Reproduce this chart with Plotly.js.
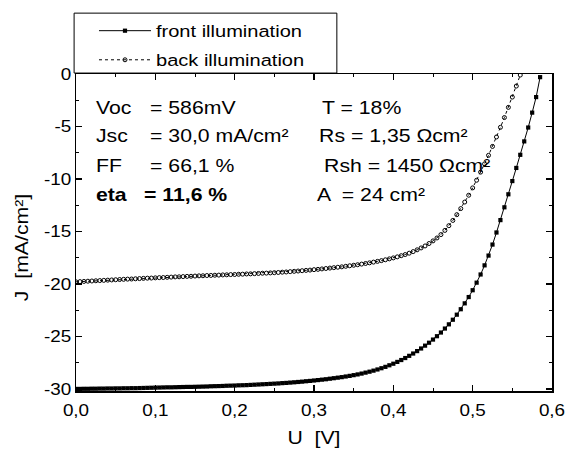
<!DOCTYPE html>
<html><head><meta charset="utf-8">
<script src="https://cdn.plot.ly/plotly-3.0.1.min.js"></script>
<style>html,body{margin:0;padding:0;background:#fff}</style>
</head><body>
<div id="chart" style="width:565px;height:450px"></div>
<script>
// Voltage sweep (V)
const voltage = [0.000,0.005,0.010,0.015,0.020,0.025,0.030,0.035,0.040,0.045,0.050,0.055,0.060,0.065,0.070,0.075,0.080,0.085,0.090,0.095,
0.100,0.105,0.110,0.115,0.120,0.125,0.130,0.135,0.140,0.145,0.150,0.155,0.160,0.165,0.170,0.175,0.180,0.185,0.190,0.195,
0.200,0.205,0.210,0.215,0.220,0.225,0.230,0.235,0.240,0.245,0.250,0.255,0.260,0.265,0.270,0.275,0.280,0.285,0.290,0.295,
0.300,0.305,0.310,0.315,0.320,0.325,0.330,0.335,0.340,0.345,0.350,0.355,0.360,0.365,0.370,0.375,0.380,0.385,0.390,0.395,
0.400,0.405,0.410,0.415,0.420,0.425,0.430,0.435,0.440,0.445,0.450,0.455,0.460,0.465,0.470,0.475,0.480,0.485,0.490,0.495,
0.500,0.505,0.510,0.515,0.520,0.525,0.530,0.535,0.540,0.545,0.550,0.555,0.560,0.565,0.570,0.575,0.580,0.585];

// Front illumination current density (mA/cm2)
const jFront = [-30.00,-30.00,-29.99,-29.99,-29.98,-29.98,-29.97,-29.97,-29.96,-29.96,-29.95,-29.95,-29.94,-29.94,-29.93,-29.93,-29.92,-29.91,-29.90,-29.89,
-29.88,-29.87,-29.86,-29.85,-29.85,-29.84,-29.83,-29.82,-29.81,-29.81,-29.80,-29.79,-29.78,-29.77,-29.75,-29.74,-29.73,-29.72,-29.70,-29.69,
-29.68,-29.66,-29.65,-29.64,-29.62,-29.60,-29.58,-29.56,-29.54,-29.52,-29.50,-29.48,-29.45,-29.43,-29.40,-29.37,-29.34,-29.31,-29.27,-29.24,
-29.20,-29.16,-29.12,-29.08,-29.03,-28.98,-28.93,-28.88,-28.82,-28.76,-28.69,-28.62,-28.54,-28.45,-28.36,-28.26,-28.15,-28.03,-27.90,-27.75,
-27.60,-27.43,-27.25,-27.06,-26.85,-26.63,-26.40,-26.15,-25.88,-25.60,-25.30,-24.98,-24.63,-24.25,-23.85,-23.41,-22.93,-22.41,-21.85,-21.25,
-20.60,-19.88,-19.10,-18.23,-17.30,-16.25,-15.10,-13.92,-12.70,-11.46,-10.20,-8.95,-7.70,-6.42,-5.10,-3.68,-2.20,-0.30];

// Back illumination current density (mA/cm2), same sweep up to 0.560 V
const jBack = [-19.80,-19.78,-19.76,-19.74,-19.72,-19.70,-19.68,-19.66,-19.64,-19.62,-19.60,-19.58,-19.56,-19.54,-19.53,-19.51,-19.49,-19.47,-19.45,-19.44,
-19.42,-19.40,-19.39,-19.37,-19.35,-19.33,-19.32,-19.30,-19.28,-19.27,-19.25,-19.23,-19.22,-19.20,-19.19,-19.17,-19.16,-19.14,-19.13,-19.11,
-19.10,-19.08,-19.07,-19.05,-19.04,-19.02,-19.00,-18.98,-18.97,-18.95,-18.93,-18.91,-18.88,-18.86,-18.83,-18.80,-18.77,-18.74,-18.71,-18.68,
-18.64,-18.61,-18.57,-18.53,-18.49,-18.45,-18.41,-18.37,-18.32,-18.27,-18.22,-18.17,-18.11,-18.05,-17.99,-17.92,-17.85,-17.78,-17.70,-17.61,
-17.52,-17.42,-17.31,-17.20,-17.07,-16.92,-16.75,-16.57,-16.38,-16.15,-15.90,-15.62,-15.30,-14.90,-14.45,-13.95,-13.40,-12.82,-12.20,-11.55,
-10.85,-10.12,-9.35,-8.56,-7.75,-6.90,-6.00,-5.08,-4.15,-3.18,-2.20,-1.15,-0.10];

const seriesNames = ['front illumination', 'back illumination'];

const xTickVals = [0, 0.1, 0.2, 0.3, 0.4, 0.5, 0.6];
const xTickText = ['0,0', '0,1', '0,2', '0,3', '0,4', '0,5', '0,6'];
const xMinorVals = [0.05, 0.15, 0.25, 0.35, 0.45, 0.55];
const yTickVals = [-30, -25, -20, -15, -10, -5, 0];
const yTickText = ['-30', '-25', '-20', '-15', '-10', '-5', '0'];
const yMinorVals = [-27.5, -22.5, -17.5, -12.5, -7.5, -2.5];

const paramLabels = ['Voc', 'Jsc', 'FF', '<b>eta</b>'];
const paramValues = ['= 586mV', '= 30,0 mA/cm²', '= 66,1 %', '<b>= 11,6 %</b>'];
const paramRight = ['T = 18%', 'Rs = 1,35 \u03A9cm²', 'Rsh = 1450 \u03A9cm²', 'A \u00A0= 24 cm²'];

const FONT = 'Liberation Sans, Arial, sans-serif';
const STRETCH = 1.18; // the reference lettering is horizontally wider than plain Arial

const traces = [
  {
    x: voltage.slice(0, jFront.length), y: jFront, name: seriesNames[0], legendgroup: 'front',
    type: 'scatter', mode: 'lines+markers',
    line: {color: '#000', width: 1},
    marker: {symbol: 'square', size: 4.2, color: '#000'}
  },
  {
    x: voltage.slice(0, jBack.length), y: jBack, name: seriesNames[1], legendgroup: 'back',
    type: 'scatter', mode: 'lines+markers',
    line: {color: '#000', width: 1, dash: 'dot'},
    marker: {symbol: 'circle-open', size: 4, color: '#000', line: {width: 1, color: '#000'}}
  }
];

const rowY = [0.893, 0.805, 0.71, 0.618];
const valX = [0.151, 0.151, 0.151, 0.139];
const rightX = [0.5126, 0.506, 0.517, 0.502];
const annotations = [];
for (let i = 0; i < 4; i++) {
  annotations.push({xref: 'paper', yref: 'paper', x: 0.0378, y: rowY[i], xanchor: 'left', yanchor: 'middle',
    text: paramLabels[i], showarrow: false, font: {family: FONT, size: 18, color: '#000'}});
  annotations.push({xref: 'paper', yref: 'paper', x: valX[i], y: rowY[i], xanchor: 'left', yanchor: 'middle',
    text: paramValues[i], showarrow: false, font: {family: FONT, size: 18, color: '#000'}});
  annotations.push({xref: 'paper', yref: 'paper', x: rightX[i], y: rowY[i], xanchor: 'left', yanchor: 'middle',
    text: paramRight[i], showarrow: false, font: {family: FONT, size: 18, color: '#000'}});
}

const axisCommon = {
  showline: true, linecolor: '#000', linewidth: 1.5, mirror: 'ticks',
  ticks: 'inside', ticklen: 6, tickwidth: 1.2, tickcolor: '#000',
  showgrid: false, zeroline: false,
  tickfont: {family: FONT, size: 16, color: '#000'},
  tickmode: 'array'
};

const layout = {
  width: 565, height: 450,
  margin: {l: 76, r: 13, t: 74, b: 59, pad: 0},
  paper_bgcolor: '#fff', plot_bgcolor: '#fff',
  font: {family: FONT, color: '#000'},
  showlegend: true,
  legend: {
    x: 0.0378, y: 1.192, xanchor: 'left', yanchor: 'top',
    borderwidth: 0, bgcolor: 'rgba(0,0,0,0)',
    font: {family: FONT, size: 17, color: '#000'},
    itemwidth: 52, tracegroupgap: 4
  },
  shapes: [{
    type: 'rect', xref: 'paper', yref: 'paper',
    x0: -0.004, x1: 0.548, y0: 1.003, y1: 1.192,
    line: {color: '#000', width: 1}, fillcolor: '#fff', layer: 'above'
  }],
  xaxis: Object.assign({}, axisCommon, {
    range: [0, 0.6], tickvals: xTickVals, ticktext: xTickText, ticklabelstandoff: 4,
    minor: {tickmode: 'array', tickvals: xMinorVals, ticks: 'inside', ticklen: 3, tickcolor: '#000', tickwidth: 1},
    title: {text: 'U\u00A0\u00A0[V]', font: {family: FONT, size: 18, color: '#000'}, standoff: 13}
  }),
  yaxis: Object.assign({}, axisCommon, {
    range: [-30.2, 0], tickvals: yTickVals, ticktext: yTickText,
    minor: {tickmode: 'array', tickvals: yMinorVals, ticks: 'inside', ticklen: 3, tickcolor: '#000', tickwidth: 1},
    title: {text: 'J\u00A0\u00A0[mA/cm²]', font: {family: FONT, size: 18, color: '#000'}, standoff: 15}
  }),
  annotations: annotations
};

function stretchText(gd) {
  // let the widened legend labels show in full
  gd.querySelectorAll('.legend, .legend *').forEach(function (el) {
    if (el.hasAttribute('clip-path')) el.removeAttribute('clip-path');
  });
  const texts = gd.querySelectorAll('svg text');
  texts.forEach(function (t) {
    let bb;
    try { bb = t.getBBox(); } catch (e) { return; }
    if (!bb || !bb.width) return;
    const anchor = t.getAttribute('text-anchor') || 'start';
    let pivot;
    if (t.classList.contains('annotation-text') || t.classList.contains('legendtext') || anchor === 'start') {
      pivot = bb.x;
    } else if (anchor === 'end') {
      pivot = bb.x + bb.width;
    } else {
      pivot = bb.x + bb.width / 2;
    }
    let extra = '';
    if (t.classList.contains('ytitle')) extra = ' translate(-15,0)';
    const prev = t.getAttribute('transform') || '';
    t.setAttribute('transform', (prev + extra + ' translate(' + (pivot * (1 - STRETCH)) + ',0) scale(' + STRETCH + ',1)').trim());
  });
}

Plotly.newPlot('chart', traces, layout, {displayModeBar: false, staticPlot: true}).then(function (gd) {
  stretchText(gd);
});
</script>
</body></html>
